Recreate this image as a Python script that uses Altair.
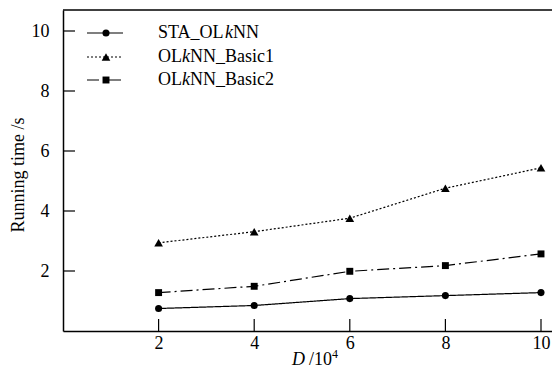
import altair as alt
import pandas as pd

# ---- data ----
D = [2, 4, 6, 8, 10]
sta = [0.75, 0.85, 1.08, 1.18, 1.28]
basic1 = [2.94, 3.31, 3.76, 4.76, 5.44]
basic2 = [1.28, 1.49, 1.99, 2.18, 2.57]
series_names = ["STA_OLkNN", "OLkNN_Basic1", "OLkNN_Basic2"]
x_ticks = [2, 4, 6, 8, 10]
y_ticks = [2, 4, 6, 8, 10]

FONT = "Liberation Serif, Times New Roman, DejaVu Serif, serif"
FS = 18
W, H = 489, 321
XMAX, YMAX = 489 / 47.8, 10.7

styles = {
    "STA_OLkNN": dict(dash=[1, 0], shape="circle", size=50),
    "OLkNN_Basic1": dict(dash=[2, 2], shape="triangle-up", size=75),
    "OLkNN_Basic2": dict(dash=[12, 4, 2, 4], shape="square", size=48),
}
values = {"STA_OLkNN": sta, "OLkNN_Basic1": basic1, "OLkNN_Basic2": basic2}

xs = alt.Scale(domain=[0, XMAX], nice=False, zero=False)
ys = alt.Scale(domain=[0, YMAX], nice=False, zero=False)
xaxis = alt.Axis(values=x_ticks, ticks=False, labelPadding=3, title=None, grid=False,
                 labelFlush=False)
yaxis = alt.Axis(values=y_ticks, ticks=False, labelPadding=14, title=None, grid=False)

layers = []
for name in series_names:
    st = styles[name]
    df = pd.DataFrame({"D": D, "t": values[name]})
    base = alt.Chart(df).encode(
        x=alt.X("D:Q", scale=xs, axis=xaxis),
        y=alt.Y("t:Q", scale=ys, axis=yaxis),
    )
    layers.append(base.mark_line(color="black", strokeWidth=1.2, strokeDash=st["dash"]))
    layers.append(base.mark_point(color="black", filled=True, opacity=1,
                                  shape=st["shape"], size=st["size"]))

# inward tick marks
ytk = pd.DataFrame({"v": y_ticks})
xtk = pd.DataFrame({"v": x_ticks})
layers.append(alt.Chart(ytk).mark_rule(color="black", strokeWidth=1.2).encode(
    y=alt.Y("v:Q", scale=ys, axis=yaxis), x=alt.value(0), x2=alt.value(12)))
layers.append(alt.Chart(xtk).mark_rule(color="black", strokeWidth=1.2).encode(
    x=alt.X("v:Q", scale=xs, axis=xaxis), y=alt.value(H), y2=alt.value(H - 12)))

# top border
layers.append(alt.Chart(pd.DataFrame({"a": [0]})).mark_rule(color="black", strokeWidth=1.5).encode(
    x=alt.value(0), x2=alt.value(W), y=alt.value(0)))

# ---- custom legend ----
one = pd.DataFrame({"a": [0]})
widths = {"S": 556, "T": 611, "A": 722, "_": 500, "O": 722, "L": 611, "N": 722,
          "B": 667, "a": 444, "s": 389, "i": 278, "c": 444, "1": 500, "2": 500, "k": 444}
row_y = [23, 47, 70]
for i, name in enumerate(series_names):
    st = styles[name]
    yv = row_y[i]
    layers.append(alt.Chart(one).mark_rule(color="black", strokeWidth=1.2, strokeDash=st["dash"]).encode(
        x=alt.value(24), x2=alt.value(60), y=alt.value(yv)))
    layers.append(alt.Chart(one).mark_point(color="black", filled=True, opacity=1,
                                            shape=st["shape"], size=st["size"]).encode(
        x=alt.value(43), y=alt.value(yv)))
    pre, post = name.split("k", 1)
    x0 = 95
    pieces = [(pre, "normal"), ("k", "italic"), (post, "normal")]
    for txt, style in pieces:
        layers.append(alt.Chart(one).mark_text(text=txt, font=FONT, fontSize=FS, fontStyle=style,
                                               align="left", baseline="middle", color="black").encode(
            x=alt.value(x0), y=alt.value(yv)))
        x0 += sum(widths.get(c, 500) for c in txt) * FS / 1000.0

# ---- axis titles ----
layers.append(alt.Chart(one).mark_text(text="Running time /s", font=FONT, fontSize=FS, angle=270,
                                       align="center", baseline="middle", color="black").encode(
    x=alt.value(-44), y=alt.value(165)))
layers.append(alt.Chart(one).mark_text(text="D", font=FONT, fontSize=FS, fontStyle="italic",
                                       align="left", baseline="alphabetic", color="black").encode(
    x=alt.value(229), y=alt.value(355)))
layers.append(alt.Chart(one).mark_text(text="/10", font=FONT, fontSize=FS,
                                       align="left", baseline="alphabetic", color="black").encode(
    x=alt.value(246), y=alt.value(355)))
layers.append(alt.Chart(one).mark_text(text="4", font=FONT, fontSize=12,
                                       align="left", baseline="alphabetic", color="black").encode(
    x=alt.value(269), y=alt.value(348)))

chart = alt.layer(*layers).properties(
    width=W, height=H,
    autosize=alt.AutoSizeParams(type="none"),
    padding={"left": 55, "top": 2, "right": 0, "bottom": 38},
).configure_view(stroke=None).configure_axis(
    labelFont=FONT, labelFontSize=FS, labelColor="black",
    domainColor="black", domainWidth=1.5,
)

chart.save("out.html", embed_options={"renderer": "svg", "actions": False})
